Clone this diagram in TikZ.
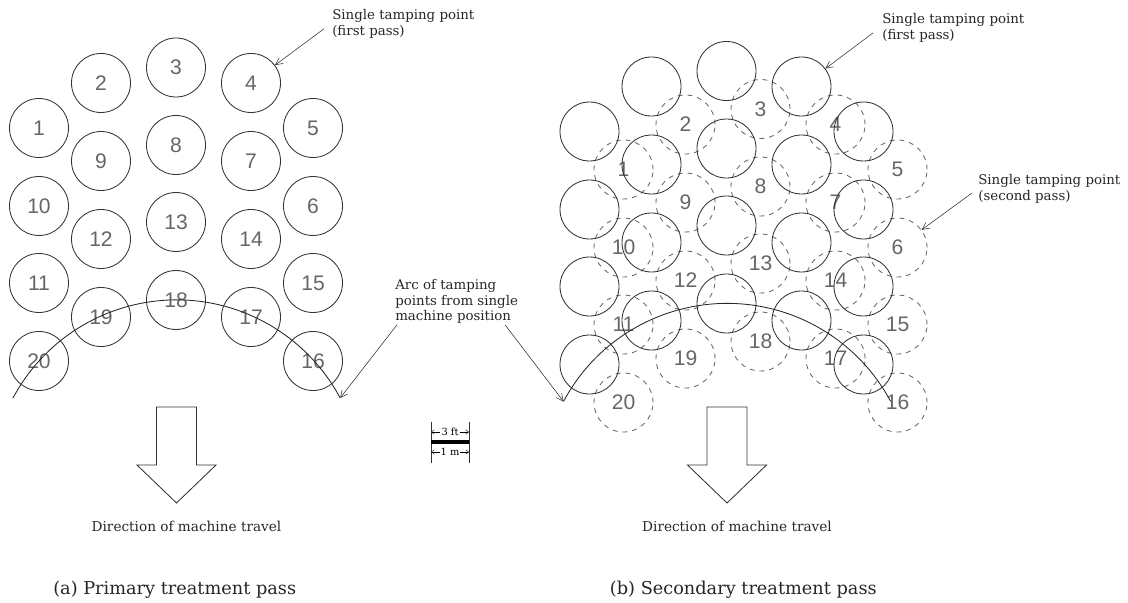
\documentclass[tikz,border=0pt]{standalone}
\usepackage{fontspec}
\setmainfont{DejaVu Serif}
\newfontfamily\numfamily{Liberation Sans}
\usetikzlibrary{arrows.meta}

\newcommand\tampnum{\numfamily\fontsize{15}{18}\selectfont}
\newcommand\annfont{\fontsize{9.5}{11.2}\selectfont}
\newcommand\dirfont{\fontsize{9.7}{11}\selectfont}
\newcommand\capfont{\fontsize{12.6}{14}\selectfont}
\newcommand\barfont{\fontsize{7}{8}\selectfont}

\tikzset{
  firstpass/.style={circle, draw=black!80, line width=0.6pt, minimum size=1.475cm,
    inner sep=0pt, font=\tampnum, text=black!60},
  secondpass/.style={firstpass, draw=black!60, dash pattern=on 3.5pt off 3.5pt},
  note/.style={font=\annfont, align=left, inner sep=0pt, text=black!85},
  pointer/.style={-{Straight Barb[length=5pt,width=5pt]}, line width=0.4pt, draw=black!80},
  arcline/.style={line width=0.6pt, draw=black!85},
  travel/.style={line width=0.6pt, draw=black!80, line join=miter},
}

\begin{document}
\begin{tikzpicture}[x=0.025cm, y=-0.025cm]
  \useasboundingbox (0,0) rectangle (1128,603);

  % tamping points: left = first pass, right = first pass (solid) + second pass (dashed)
  \foreach \n/\x/\y in {1/39/128, 2/101/83, 3/176/67.5, 4/251/83, 5/313/128,
                        9/101/161, 8/176/145, 7/251/161, 10/39/206, 6/313/206,
                        12/101/239, 13/176/222, 14/251/239, 11/39/283, 15/313/283,
                        19/101/317, 18/176/300, 17/251/317, 20/39/361, 16/313/361} {
    \node[firstpass] (a\n) at (\x,\y) {\n};
    \node[secondpass] (s\n) at (\x+584.5,\y+41.5) {\n};
    \node[firstpass] (b\n) at (\x+550.5,\y+3.5) {};
  }

  % arcs from a single machine position
  \draw[arcline] (13,398) coordinate (arcAstart)
    arc[start angle=151.9, end angle=28.1, radius=4.635cm] coordinate (arcAend);
  \draw[arcline] (563.5,401.5) coordinate (arcBstart)
    arc[start angle=151.9, end angle=28.1, radius=4.635cm] coordinate (arcBend);

  % annotations
  \node[note, anchor=west] (tpA) at (332,24) {Single tamping point\\(first pass)};
  \node[note, anchor=west] (tpB) at (882,28) {Single tamping point\\(first pass)};
  \node[note, anchor=west] (tpC) at (978,189) {Single tamping point\\(second pass)};
  \node[note, anchor=north west] (arcnote) at (395,279)
    {Arc of tamping\\points from single\\machine position};

  \draw[pointer] ([xshift=-0.2cm,yshift=-0.12cm]tpA.west) -- (a4);
  \draw[pointer] ([xshift=-0.22cm,yshift=-0.12cm]tpB.west) -- (b4);
  \draw[pointer] ([xshift=-0.15cm,yshift=-0.1cm]tpC.west) -- (s6);
  \draw[pointer] ([xshift=0.05cm,yshift=-0.02cm]arcnote.south west) -- (arcAend);
  \draw[pointer] ([xshift=-0.33cm,yshift=-0.02cm]arcnote.south east) -- (arcBstart);

  % direction of travel
  \foreach \cx/\nm in {176.5/A, 727/B} {
    \draw[travel] (\cx-20,407) -- (\cx+20,407) -- (\cx+20,465) -- (\cx+39.5,465)
      -- (\cx,503) -- (\cx-39.5,465) -- (\cx-20,465) -- cycle;
    \node[font=\dirfont, text=black!85] (dir\nm) at (\cx+10,526) {Direction of machine travel};
  }

  % scale bar
  \coordinate (tickL) at (431,442);
  \coordinate (tickR) at (469,442);
  \draw[line width=0.5pt, black!80] (431,422) -- (431,463) (469,422) -- (469,463);
  \draw[line width=2.8pt] (tickL) -- (tickR);
  \node[font=\barfont, inner sep=0.6pt] (ft) at (450,432) {3 ft};
  \node[font=\barfont, inner sep=0.6pt] (mt) at (450,452) {1 m};
  \foreach \t in {ft, mt} {
    \draw[-{Straight Barb[length=2pt,width=3pt]}, line width=0.3pt] (\t.west) -- (\t.west -| tickL);
    \draw[-{Straight Barb[length=2pt,width=3pt]}, line width=0.3pt] (\t.east) -- (\t.east -| tickR);
  }

  % captions
  \node[font=\capfont, anchor=west, inner sep=0pt, text=black!85] (capA) at (53,590)
    {(a) Primary treatment pass};
  \node[font=\capfont, anchor=east, inner sep=0pt, text=black!85] (capB) at (877,590)
    {(b) Secondary treatment pass};
\end{tikzpicture}
\end{document}
